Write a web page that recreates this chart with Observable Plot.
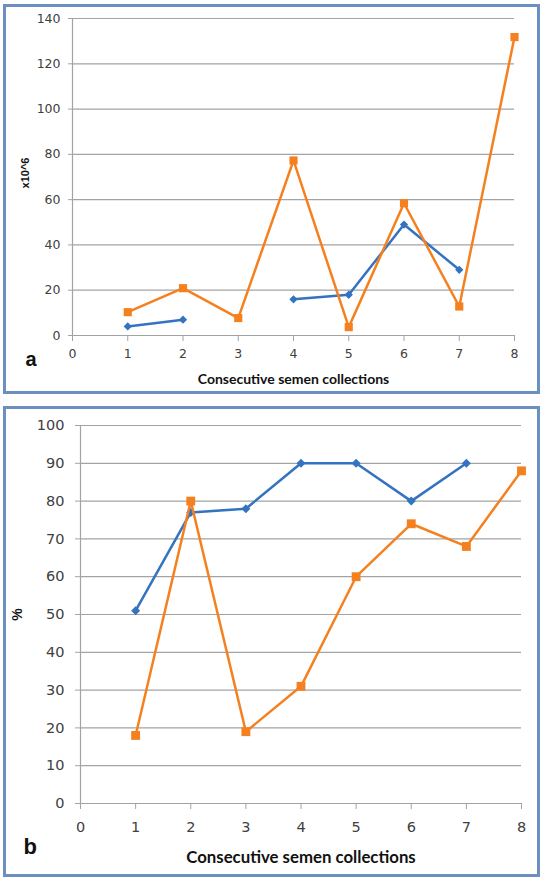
<!DOCTYPE html>
<html><head><meta charset="utf-8">
<script src="https://cdn.jsdelivr.net/npm/d3@7"></script>
<script src="https://cdn.jsdelivr.net/npm/@observablehq/plot@0.6"></script>
<style>
body{margin:0;background:#fff;}
#wrap{position:relative;width:544px;height:881px;}
.panel{position:absolute;box-sizing:border-box;border:3px solid #6a8fc0;background:#fff;}
.panel svg{display:block;}
</style></head><body>
<div id="wrap">
<div class="panel" id="pa" style="left:3px;top:4px;width:537px;height:390px"></div>
<div class="panel" id="pb" style="left:3px;top:406px;width:537px;height:471px"></div>
</div>
<script>
// ---- data ----
const collections = [1, 2, 3, 4, 5, 6, 7, 8];
const aBlue   = [4, 7, null, 16, 18, 49, 29, null];
const aOrange = [10.3, 20.9, 7.7, 77.3, 3.7, 58.4, 12.8, 131.8];
const bBlue   = [51, 77, 78, 90, 90, 80, 90, null];
const bOrange = [18, 80, 19, 31, 60, 74, 68, 88];
const xTicks  = [0, 1, 2, 3, 4, 5, 6, 7, 8];
const aYTicks = [0, 20, 40, 60, 80, 100, 120, 140];
const bYTicks = [0, 10, 20, 30, 40, 50, 60, 70, 80, 90, 100];
const xTitle = "Consecutive semen collections";
const aYTitle = "x10^6";
const bYTitle = "%";

const BLUE = "#3473c0", ORANGE = "#f5801f", GRID = "#a3a3a3", TXT = "#404040";

const diamond = {draw(ctx, size) {
  const h = Math.sqrt(size / 2);
  ctx.moveTo(0, -h); ctx.lineTo(h, 0); ctx.lineTo(0, h); ctx.lineTo(-h, 0); ctx.closePath();
}};

function rows(vals) { return collections.map((c, i) => ({x: c, y: vals[i]})); }

function panel(cfg) {
  const blue = rows(cfg.blue), orange = rows(cfg.orange);
  const chart = Plot.plot({
    width: cfg.width, height: cfg.height,
    marginLeft: cfg.ml, marginRight: cfg.mr, marginTop: cfg.mt, marginBottom: cfg.mb,
    style: {fontFamily: "DejaVu Sans", fontSize: cfg.fs + "px", background: "white", overflow: "visible"},
    x: {domain: [0, 8]},
    y: {domain: cfg.yDomain},
    marks: [
      Plot.gridY(cfg.yTicks, {stroke: GRID, strokeOpacity: 1, strokeWidth: 1.2}),
      Plot.ruleX([0], {stroke: GRID, strokeWidth: 1.2}),
      Plot.axisX(xTicks, {tickSize: 6, tickPadding: cfg.tpx, stroke: GRID, fill: TXT, label: null, fontSize: cfg.fs}),
      Plot.axisY(cfg.yTicks, {tickSize: cfg.tsy, tickPadding: cfg.tpy, stroke: GRID, fill: TXT, label: null, fontSize: cfg.fs}),
      Plot.line(blue, {x: "x", y: "y", stroke: BLUE, strokeWidth: 2.5}),
      Plot.dot(blue.filter(d => d.y != null), {x: "x", y: "y", symbol: diamond, r: cfg.rd, fill: BLUE, stroke: "none"}),
      Plot.line(orange, {x: "x", y: "y", stroke: ORANGE, strokeWidth: 2.5}),
      Plot.dot(orange, {x: "x", y: "y", symbol: "square", r: cfg.rs, fill: ORANGE, stroke: "none"}),
      Plot.text([xTitle], {frameAnchor: "bottom", dy: cfg.xtDy, lineAnchor: "bottom", text: d => d,
        fontFamily: "Lato", fontWeight: "bold", fontSize: cfg.xtFs, fill: "#111"}),
      Plot.text([cfg.yTitle], {frameAnchor: "left", dx: cfg.ytDx, dy: cfg.ytDy, rotate: -90, lineAnchor: "middle", textAnchor: "middle", text: d => d,
        fontFamily: cfg.ytFont, fontWeight: "bold", fontSize: cfg.ytFs, fill: "#111"}),
      Plot.text([cfg.letter], {frameAnchor: "bottom-left", dx: cfg.lDx, dy: cfg.lDy, lineAnchor: "bottom", textAnchor: "start", text: d => d,
        fontFamily: "Liberation Sans", fontWeight: "bold", fontSize: cfg.lFs, fill: "#111"})
    ]
  });
  document.getElementById(cfg.el).appendChild(chart);
}

panel({el: "pa", width: 531, height: 384, ml: 66, mr: 23, mt: 11, mb: 56,
  yDomain: [0, 140], yTicks: aYTicks, blue: aBlue, orange: aOrange, fs: 12.5,
  tpx: 8, tsy: 4, tpy: 8, rd: 3.3, rs: 4.6,
  xtDy: 48, xtFs: 14, yTitle: aYTitle, ytDx: -47, ytDy: -4, ytFs: 11, ytFont: "Liberation Sans",
  letter: "a", lDx: -47, lDy: 30, lFs: 20});

panel({el: "pb", width: 531, height: 465, ml: 74, mr: 16, mt: 16, mb: 71,
  yDomain: [0, 100], yTicks: bYTicks, blue: bBlue, orange: bOrange, fs: 14.5,
  tpx: 12, tsy: 5, tpy: 11, rd: 3.6, rs: 5,
  xtDy: 59, xtFs: 16.8, yTitle: bYTitle, ytDx: -63, ytDy: 0, ytFs: 14, ytFont: "Liberation Sans",
  letter: "b", lDx: -57, lDy: 50, lFs: 22});
</script>
</body></html>
